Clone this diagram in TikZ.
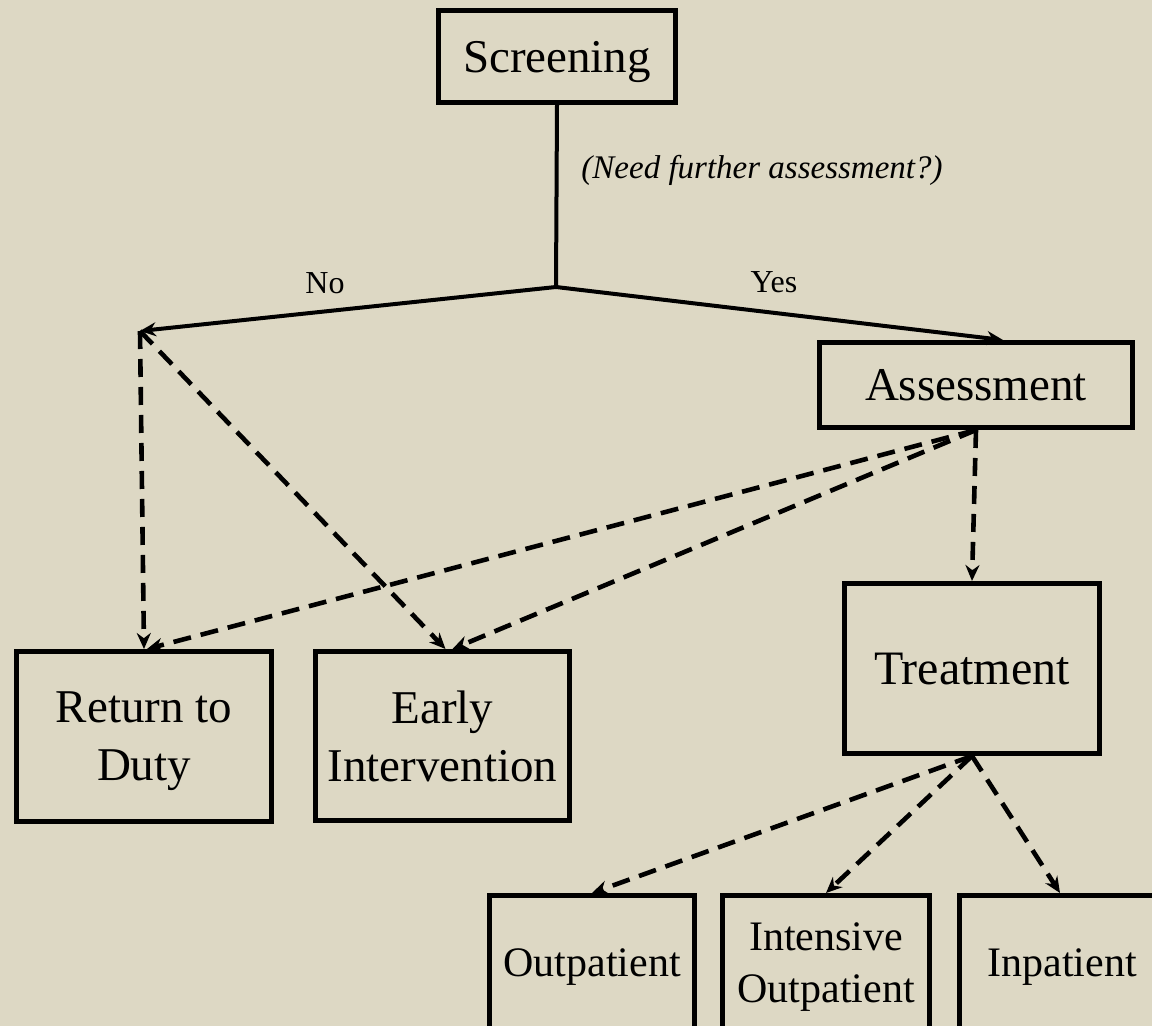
\documentclass[tikz,border=0pt]{standalone}
\usepackage{fontspec}
\setmainfont{Liberation Serif}
\usetikzlibrary{arrows.meta}
\definecolor{bg}{RGB}{221,216,196}
\begin{document}
\begin{tikzpicture}[x=0.5pt,y=-0.5pt,
  box/.style={draw=black,line width=2.5pt,inner sep=0pt,align=center,text=black,text depth=0pt},
  bigtxt/.style={font=\fontsize{23.5}{28}\selectfont},
  midtxt/.style={font=\fontsize{23.5}{29}\selectfont},
  smalltxt/.style={font=\fontsize{21}{26}\selectfont},
  solidarrow/.style={line width=2pt,-{Stealth[length=8pt,width=7pt]}},
  dasharrow/.style={line width=2.3pt,dash pattern=on 9pt off 5pt,-{Stealth[length=8pt,width=7pt]}},
  lbl/.style={font=\fontsize{16}{19}\selectfont}]
\fill[bg] (0,0) rectangle (1152,1026);
\useasboundingbox (0,0) rectangle (1152,1026);
\clip (0,0) rectangle (1152,1026);

\node[box,bigtxt,minimum width=118.5pt,minimum height=46pt] (scr) at (557,56.5) {Screening};
\node[box,bigtxt,minimum width=156.5pt,minimum height=42.5pt] (ass) at (976,385) {Assessment};
\node[box,midtxt,minimum width=127.5pt,minimum height=85pt] (rtd) at (144,736.5) {Return to\\Duty};
\node[box,midtxt,minimum width=127pt,minimum height=84.5pt] (ei) at (442.5,736) {Early\\Intervention};
\node[box,font=\fontsize{24}{28}\selectfont,minimum width=127.5pt,minimum height=85pt] (trt) at (972,668.5) {Treatment};
\node[box,smalltxt,minimum width=102.5pt,minimum height=67.5pt] (out) at (592,963) {Outpatient};
\node[box,smalltxt,minimum width=103.5pt,minimum height=67.5pt] (io) at (826,963) {Intensive\\Outpatient};
\node[box,smalltxt,minimum width=102.5pt,minimum height=67.5pt] (inp) at (1062,963) {Inpatient};

\coordinate (br) at (556,287);
\coordinate (lp) at (140,331);

\draw[line width=2pt] (scr.south) -- (br);
\draw[solidarrow] (br) -- (lp);
\draw[solidarrow] (br) -- ([xshift=13.5pt]ass.north);

\node[lbl] (no) at (325,283) {No};
\node[lbl] (yes) at (774,282) {Yes};
\node[font=\fontsize{16.5}{19}\selectfont\itshape] (q) at (762,170) {(Need further assessment?)};

\draw[dasharrow] (lp) -- (rtd.north);
\draw[dasharrow] (lp) -- ([xshift=1.5pt]ei.north);
\draw[dasharrow] (ass.south) -- ([xshift=1.5pt]rtd.north);
\draw[dasharrow] (ass.south) -- ([xshift=5pt]ei.north);
\draw[dasharrow] (ass.south) -- (trt.north);
\draw[dasharrow] (trt.south) -- (out.north);
\draw[dasharrow] (trt.south) -- (io.north);
\draw[dasharrow] (trt.south) -- ([xshift=-1pt]inp.north);
\end{tikzpicture}
\end{document}
